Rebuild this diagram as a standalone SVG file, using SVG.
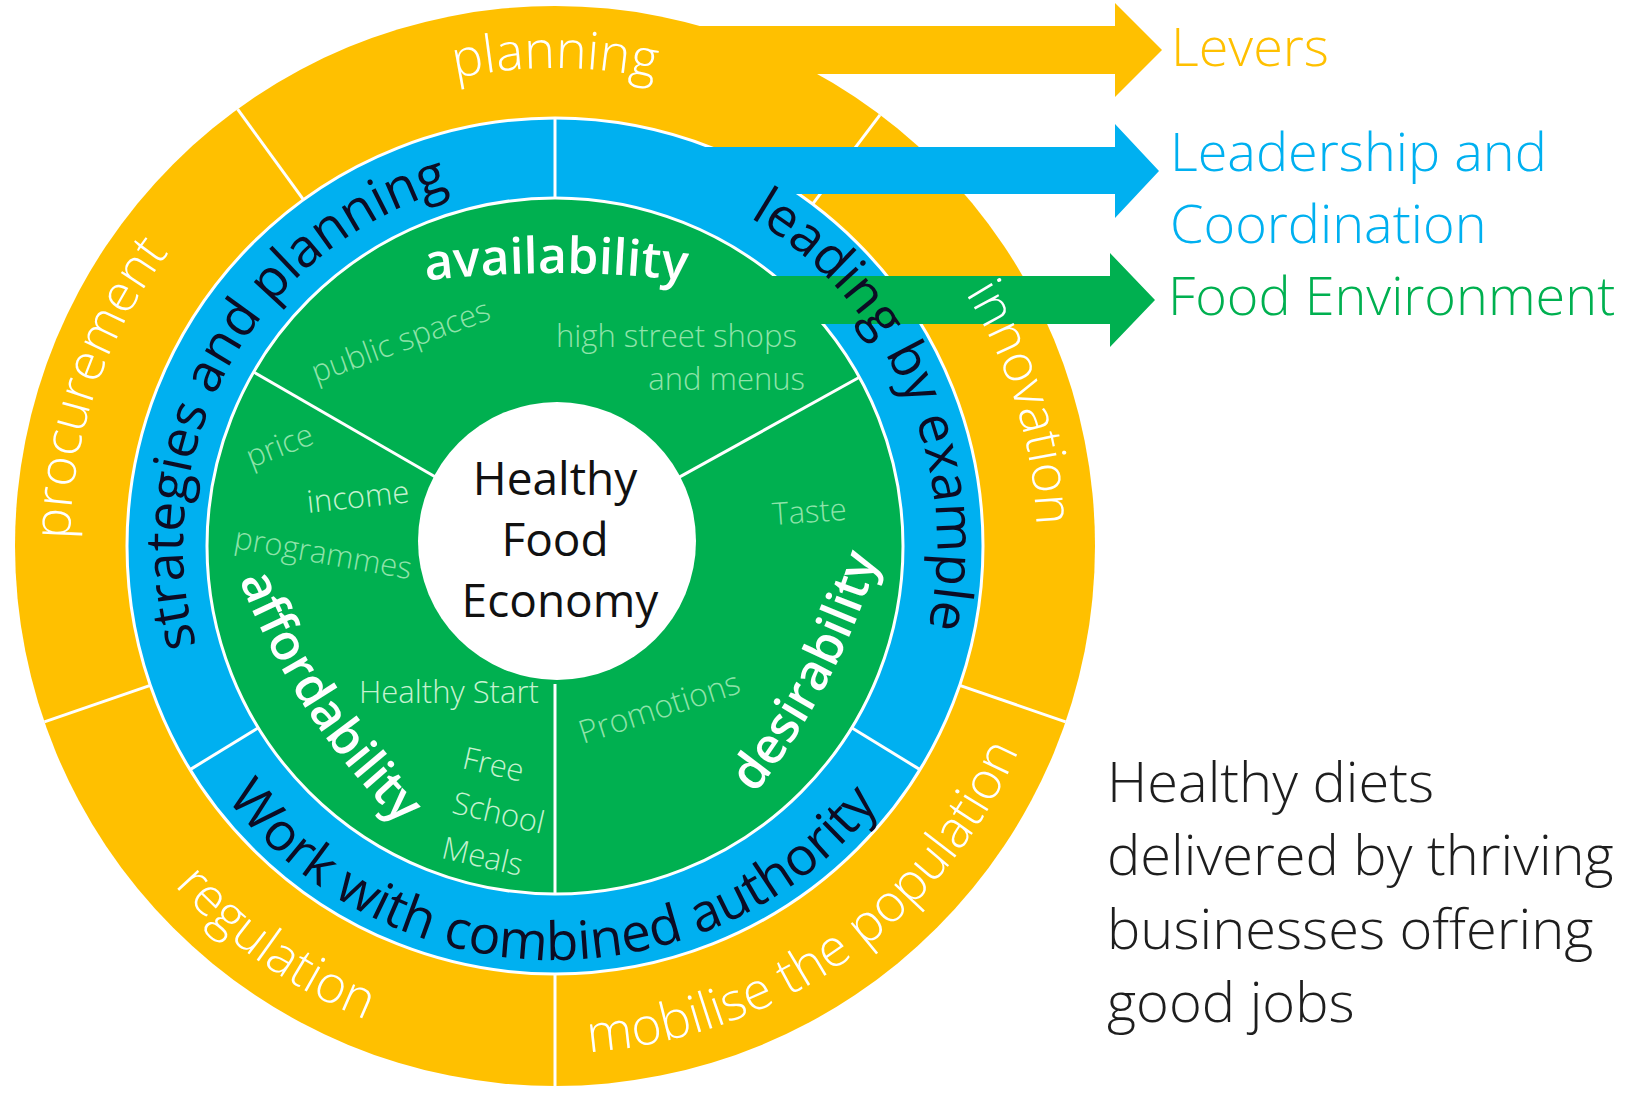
<svg xmlns="http://www.w3.org/2000/svg" width="1644" height="1099" viewBox="0 0 1644 1099">
  <defs>
    <style>
      .orange { fill: #FFC000; }
      .blue { fill: #00B0F0; }
      .green { fill: #00B050; }
      .sep { fill: none; stroke: #FFFFFF; stroke-width: 3; }
      .div { stroke: #FFFFFF; stroke-width: 3; }
      text { font-family: "Open Sans", "Noto Sans", "DejaVu Sans", sans-serif; }
      .lever { font-size: 52px; font-weight: 300; fill: #FFFFFF; }
      .lead { font-size: 53px; font-weight: 400; fill: #0C0C24; }
      .env { font-size: 50px; font-weight: 600; fill: #FFFFFF; }
      .detail { font-size: 31px; font-weight: 300; fill: #8FE3AA; }
      .detail-hi { fill: #C6F2D0; }
      .hub { font-size: 46px; font-weight: 400; fill: #111111; }
      .key { font-size: 54px; font-weight: 300; }
      .outcome { font-size: 56px; font-weight: 300; fill: #1E1E1E; }
    </style>
    <!-- baselines for the curved ring labels (wheel centre 555,546) -->
    <path id="arc-planning" d="M248.4,179.6 A477,477 0 0 1 861.6,179.6"/>
    <path id="arc-procurement" d="M102.2,719.8 A485,485 0 0 1 305.2,130.3"/>
    <path id="arc-innovation" d="M817.5,141.7 A482,482 0 0 1 998.7,734.3"/>
    <path id="arc-mobilise" d="M510.8,1051.1 A507,507 0 0 0 1044.7,677.2"/>
    <path id="arc-regulation" d="M75.8,720.4 A510,510 0 0 0 555,1056"/>
    <path id="arc-strategies" d="M236.1,737.6 A372,372 0 0 1 548.5,174.1"/>
    <path id="arc-leading" d="M663.5,179.7 A382,382 0 0 1 896.9,716.4"/>
    <path id="arc-work" d="M164.8,684.2 A414,414 0 0 0 942.8,691.0"/>
    <path id="arc-availability" d="M380,287 Q556,259 732,287"/>
    <path id="arc-desirability" d="M720.7,834.1 Q848.7,693.1 891.7,507.1"/>
    <path id="arc-affordability" d="M223,534 Q285,726 437,858.4"/>
  </defs>

  <rect x="0" y="0" width="1644" height="1099" fill="#FFFFFF"/>

  <!-- outer ring: levers -->
  <g id="levers-ring">
    <circle class="orange" cx="555" cy="546" r="540"/>
    <line class="div" x1="303.4" y1="199.7" x2="237.6" y2="109.1"/>
    <line class="div" x1="812.6" y1="204.2" x2="880.0" y2="114.8"/>
    <line class="div" x1="959.7" y1="685.4" x2="1065.6" y2="721.8"/>
    <line class="div" x1="555" y1="974" x2="555" y2="1086"/>
    <line class="div" x1="150.3" y1="685.4" x2="44.4" y2="721.8"/>
  </g>

  <!-- middle ring: leadership and coordination -->
  <g id="leadership-ring">
    <circle class="blue" cx="555" cy="546" r="428"/>
    <circle class="sep" cx="555" cy="546" r="428"/>
    <line class="div" x1="555" y1="198" x2="555" y2="118"/>
    <line class="div" x1="851.7" y1="727.8" x2="920.0" y2="769.6"/>
    <line class="div" x1="258.3" y1="727.8" x2="190.1" y2="769.6"/>
  </g>

  <!-- inner disc: food environment -->
  <g id="environment-ring">
    <circle class="green" cx="555" cy="546" r="348"/>
    <circle class="sep" cx="555" cy="546" r="348"/>
    <line class="div" x1="675.7" y1="479.1" x2="859.4" y2="377.3"/>
    <line class="div" x1="555" y1="684" x2="555" y2="894"/>
    <line class="div" x1="435.5" y1="477" x2="253.6" y2="372"/>
  </g>

  <!-- hub -->
  <g id="hub">
    <circle cx="557" cy="541" r="139" fill="#FFFFFF"/>
    <text class="hub" text-anchor="middle">
      <tspan x="561" y="495">Healthy</tspan>
      <tspan x="561" y="556">Food</tspan>
      <tspan x="560" y="617">Economy</tspan>
    </text>
  </g>

  <!-- arrows leading out to the key -->
  <g id="connectors">
    <polygon class="orange" points="671,26 1115,26 1115,3 1162,50 1115,97 1115,74 671,74"/>
    <polygon class="blue" points="685,147 1115,147 1115,124 1159,171 1115,218 1115,194 685,194"/>
    <polygon class="green" points="740,276 1110,276 1110,253 1155,300 1110,347 1110,324 740,324"/>
  </g>

  <g id="lever-labels" class="lever">
    <text><textPath href="#arc-planning" startOffset="50%" text-anchor="middle">planning</textPath></text>
    <text><textPath href="#arc-procurement" startOffset="50%" text-anchor="middle">procurement</textPath></text>
    <text><textPath href="#arc-innovation" startOffset="50%" text-anchor="middle">innovation</textPath></text>
    <text><textPath href="#arc-mobilise" startOffset="50%" text-anchor="middle">mobilise the population</textPath></text>
    <text><textPath href="#arc-regulation" startOffset="50%" text-anchor="middle">regulation</textPath></text>
  </g>

  <g id="leadership-labels" class="lead">
    <text><textPath href="#arc-strategies" startOffset="50%" text-anchor="middle">strategies and planning</textPath></text>
    <text><textPath href="#arc-leading" startOffset="50%" text-anchor="middle">leading by example</textPath></text>
    <text><textPath href="#arc-work" startOffset="50%" text-anchor="middle">Work with combined authority</textPath></text>
  </g>

  <g id="environment-labels">
    <text class="env"><textPath href="#arc-availability" startOffset="50%" text-anchor="middle">availability</textPath></text>
    <text class="env"><textPath href="#arc-desirability" startOffset="50%" text-anchor="middle">desirability</textPath></text>
    <text class="env"><textPath href="#arc-affordability" startOffset="50%" text-anchor="middle">affordability</textPath></text>

    <text class="detail" x="316" y="383" transform="rotate(-20 316 383)">public spaces</text>
    <text class="detail" text-anchor="end">
      <tspan x="805" y="347">high street shops</tspan>
      <tspan x="805" y="390">and menus</tspan>
    </text>
    <text class="detail" x="251" y="468" transform="rotate(-21 251 468)">price</text>
    <text class="detail detail-hi" x="308" y="513" transform="rotate(-6 308 513)">income</text>
    <text class="detail" x="233" y="548" transform="rotate(10 233 548)">programmes</text>
    <text class="detail detail-hi" x="359" y="703">Healthy Start</text>
    <text class="detail detail-hi" transform="rotate(13 461 768)">
      <tspan x="461" y="768">Free</tspan>
      <tspan x="461" y="814">School</tspan>
      <tspan x="461" y="860">Meals</tspan>
    </text>
    <text class="detail" x="773" y="525" transform="rotate(-4 773 525)">Taste</text>
    <text class="detail" x="583" y="744" style="font-size:32px" transform="rotate(-18 583 744)">Promotions</text>
  </g>

  <g id="legend" class="key">
    <text x="1171" y="66" fill="#FFC000">Levers</text>
    <text fill="#00B0F0">
      <tspan x="1170" y="171">Leadership and</tspan>
      <tspan x="1170" y="243">Coordination</tspan>
    </text>
    <text x="1168" y="315" fill="#00B050">Food Environment</text>
  </g>

  <g id="outcome">
    <text class="outcome">
      <tspan x="1107" y="802">Healthy diets</tspan>
      <tspan x="1107" y="875">delivered by thriving</tspan>
      <tspan x="1107" y="949">businesses offering</tspan>
      <tspan x="1107" y="1022">good jobs</tspan>
    </text>
  </g>
</svg>
